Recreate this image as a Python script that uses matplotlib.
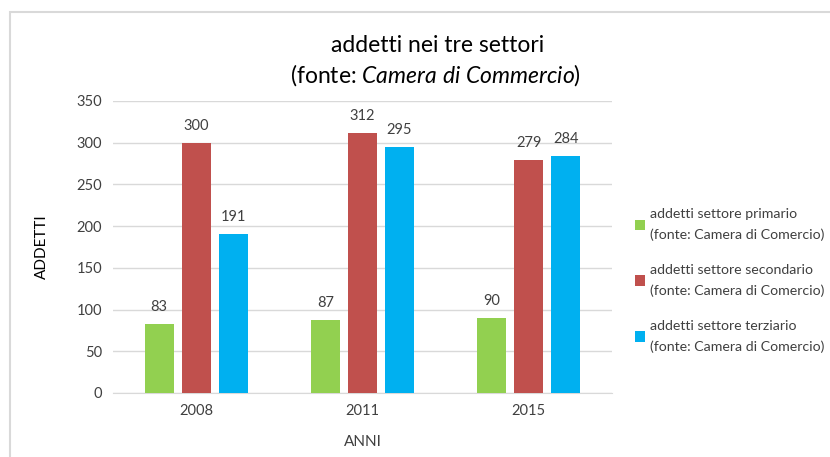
import numpy as np
import matplotlib
matplotlib.use("Agg")
import matplotlib.pyplot as plt
from matplotlib.patches import Rectangle

years = ["2008", "2011", "2015"]
primario = [83, 87, 90]
secondario = [300, 312, 279]
terziario = [191, 295, 284]
series_labels = [
    "addetti settore primario\n(fonte: Camera di Comercio)",
    "addetti settore secondario\n(fonte: Camera di Comercio)",
    "addetti settore terziario\n(fonte: Camera di Comercio)",
]
colors = ["#92D050", "#C0504D", "#00B0F0"]

plt.rcParams["font.family"] = ["Lato", "DejaVu Sans"]
plt.rcParams["mathtext.fontset"] = "custom"
plt.rcParams["mathtext.rm"] = "Lato"
plt.rcParams["mathtext.it"] = "Lato:italic"

fig = plt.figure(figsize=(8.30, 4.57), dpi=100)
# chart frame
fig.patches.append(Rectangle((10 / 830, -0.1), 1.0, 1 - 12 / 457 + 0.1,
                             transform=fig.transFigure, fill=False,
                             edgecolor="#D9D9D9", linewidth=1.5))

ax = fig.add_axes([113 / 830, 1 - 393 / 457, 499 / 830, 292 / 457])

x = np.arange(len(years))
w = 0.175
step = 0.222
for i, (vals, c, lab) in enumerate(zip([primario, secondario, terziario], colors, series_labels)):
    bars = ax.bar(x + (i - 1) * step, vals, width=w, color=c, label=lab, zorder=3)
    for b, v in zip(bars, vals):
        ax.text(b.get_x() + b.get_width() / 2, v + 12, str(v), ha="center", va="bottom",
                fontsize=10.5, color="#404040")

ax.set_xlim(-0.5, 2.5)
ax.set_ylim(0, 350)
ax.set_yticks(range(0, 351, 50))
ax.set_xticks(x)
ax.set_xticklabels(years)
ax.grid(axis="y", color="#D9D9D9", linewidth=1, zorder=0)
for s in ["top", "right", "left"]:
    ax.spines[s].set_visible(False)
ax.spines["bottom"].set_color("#D9D9D9")
ax.tick_params(length=0, labelsize=10.5, colors="#404040", pad=8)
ax.set_xlabel("ANNI", fontsize=11, color="#404040", labelpad=12)
ax.set_ylabel("ADDETTI", fontsize=11, color="#000000", labelpad=20)

fig.text(0.527, 1 - 45 / 457, "addetti nei tre settori",
         ha="center", va="center", fontsize=16.5)
fig.text(0.525, 1 - 75 / 457, "(fonte: $\\mathit{Camera\\ di\\ Commercio}$)",
         ha="center", va="center", fontsize=16.5)

leg = ax.legend(loc="center left", bbox_to_anchor=(1.02, 0.385), frameon=False,
                fontsize=10.2, handlelength=0.75, handleheight=0.75, handletextpad=0.35,
                labelspacing=1.62, labelcolor="#404040")
for t in leg.get_texts():
    t.set_linespacing(1.8)

fig.savefig("out.png", dpi=100)
